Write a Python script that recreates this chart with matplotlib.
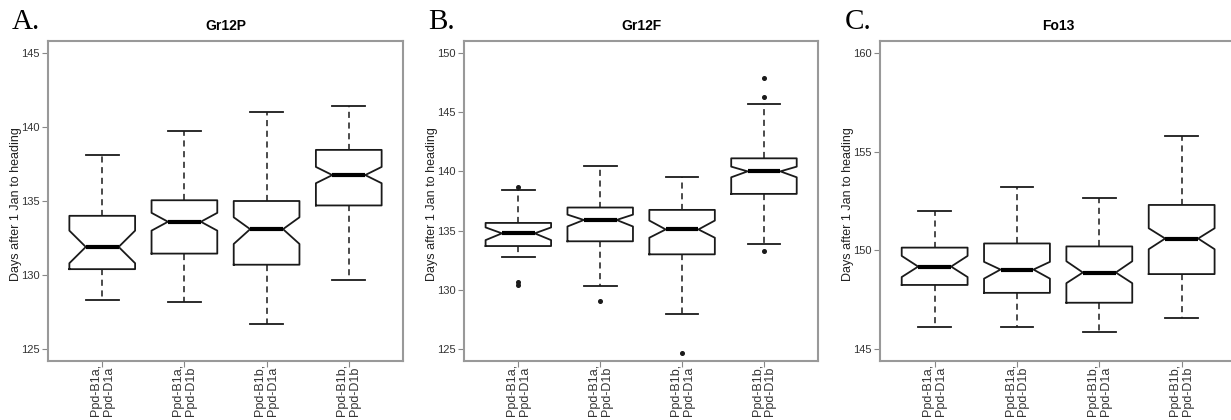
import numpy as np
import matplotlib
matplotlib.use('Agg')
import matplotlib.pyplot as plt

plt.rcParams['font.family'] = ['Liberation Sans', 'DejaVu Sans']

# Genotype groups (same for all three trials)
groups = ['Ppd-B1a,\nPpd-D1a', 'Ppd-B1a,\nPpd-D1b', 'Ppd-B1b,\nPpd-D1a', 'Ppd-B1b,\nPpd-D1b']

# Gr12P - box statistics (days after 1 Jan)
gr12p_whislo = [128.3, 128.2, 126.7, 129.7]
gr12p_q1 = [130.4, 131.45, 130.7, 134.7]
gr12p_med = [131.9, 133.6, 133.1, 136.75]
gr12p_q3 = [134.0, 135.05, 135.0, 138.45]
gr12p_whishi = [138.1, 139.7, 141.0, 141.4]
gr12p_cilo = [130.8, 133.0, 132.1, 136.2]
gr12p_cihi = [133.0, 134.2, 133.9, 137.3]
gr12p_fliers = [[], [], [], []]

# Gr12F
gr12f_whislo = [132.8, 130.3, 128.0, 133.9]
gr12f_q1 = [133.7, 134.1, 133.0, 138.1]
gr12f_med = [134.77, 135.9, 135.1, 140.0]
gr12f_q3 = [135.65, 136.95, 136.75, 141.1]
gr12f_whishi = [138.45, 140.45, 139.5, 145.7]
gr12f_cilo = [134.2, 135.35, 134.4, 139.5]
gr12f_cihi = [135.27, 136.35, 135.85, 140.4]
gr12f_fliers = [[138.65, 130.7, 130.4], [129.1], [124.65], [147.9, 146.3, 133.3]]

# Fo13
fo13_whislo = [146.1, 146.1, 145.85, 146.6]
fo13_q1 = [148.25, 147.85, 147.35, 148.8]
fo13_med = [149.18, 149.03, 148.88, 150.6]
fo13_q3 = [150.14, 150.35, 150.2, 152.3]
fo13_whishi = [152.0, 153.2, 152.65, 155.8]
fo13_cilo = [148.65, 148.57, 148.34, 150.06]
fo13_cihi = [149.72, 149.42, 149.45, 151.12]
fo13_fliers = [[], [], [], []]

y_ranges = [(125, 145), (125, 150), (145, 160)]
y_ticks = [[125, 130, 135, 140, 145], [125, 130, 135, 140, 145, 150], [145, 150, 155, 160]]
titles = ['Gr12P', 'Gr12F', 'Fo13']
letters = ['A.', 'B.', 'C.']


def make_stats(whislo, q1, med, q3, whishi, cilo, cihi, fliers):
    stats = []
    for i in range(len(med)):
        stats.append(dict(whislo=whislo[i], q1=q1[i], med=med[i], q3=q3[i], whishi=whishi[i],
                          cilo=cilo[i], cihi=cihi[i], fliers=fliers[i]))
    return stats


panels = [
    make_stats(gr12p_whislo, gr12p_q1, gr12p_med, gr12p_q3, gr12p_whishi, gr12p_cilo, gr12p_cihi, gr12p_fliers),
    make_stats(gr12f_whislo, gr12f_q1, gr12f_med, gr12f_q3, gr12f_whishi, gr12f_cilo, gr12f_cihi, gr12f_fliers),
    make_stats(fo13_whislo, fo13_q1, fo13_med, fo13_q3, fo13_whishi, fo13_cilo, fo13_cihi, fo13_fliers),
]

fig = plt.figure(figsize=(12.31, 4.2), dpi=100)

# axes rectangles in pixels (left, right) -- last panel runs off the right edge like the original
px_lr = [(48, 403), (464.3, 818), (880.3, 1236)]
W, H = 1231, 420
top, bottom = 41, 361

for k in range(3):
    l, r = px_lr[k]
    ax = fig.add_axes([l / W, (H - bottom) / H, (r - l) / W, (bottom - top) / H])
    pos = np.arange(1, len(groups) + 1)

    ax.bxp(panels[k], positions=pos, widths=0.8, shownotches=True,
           boxprops=dict(color='#1a1a1a', linewidth=1.3),
           medianprops=dict(color='black', linewidth=3, solid_capstyle='butt'),
           whiskerprops=dict(color='#1a1a1a', linewidth=1.1, linestyle=(0, (4, 3))),
           capprops=dict(color='#1a1a1a', linewidth=1.3),
           flierprops=dict(marker='o', markersize=2.6, markerfacecolor='#1a1a1a',
                           markeredgecolor='#1a1a1a', linestyle='none'))

    lo, hi = y_ranges[k]
    ext = (hi - lo) * 0.04
    ax.set_ylim(lo - ext, hi + ext)
    ax.set_xlim(0.34, 4.66)
    ax.set_yticks(y_ticks[k])
    ax.set_xticks(pos)
    ax.set_xticklabels(groups, rotation=90, ha='center', va='top', multialignment='left',
                       linespacing=1.1, fontsize=9, color='#333333')
    ax.tick_params(axis='y', labelsize=8, labelcolor='#333333', color='#888888', length=4, width=0.8, pad=2)
    ax.tick_params(axis='x', color='#888888', length=4, width=0.8, pad=-2)

    for s in ax.spines.values():
        s.set_color('#999999')
        s.set_linewidth(1.5)

    ax.set_title(titles[k], fontsize=10, fontweight='bold', pad=8)
    ax.set_ylabel('Days after 1 Jan to heading', fontsize=9, color='#222222')
    ax.yaxis.set_label_coords(-0.073, 0.49)

    fig.text((l - 36) / W, (H - 29.3) / H, letters[k], family=['Liberation Serif', 'DejaVu Serif'],
             fontsize=21, va='baseline', ha='left')

fig.savefig('out.png', dpi=100)
